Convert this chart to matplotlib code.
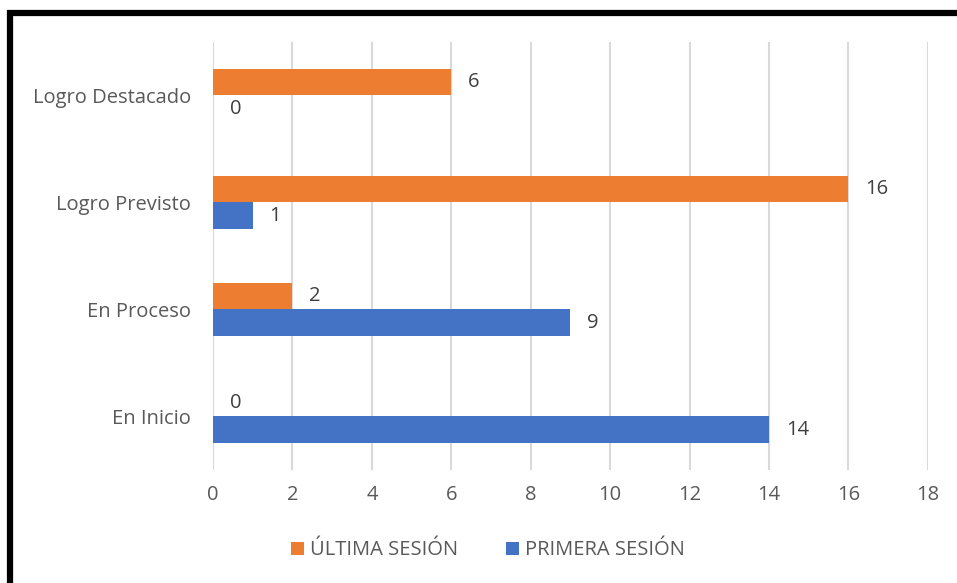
"""Horizontal grouped bar chart: primera vs ultima sesion."""

import matplotlib
matplotlib.use("Agg")
from matplotlib import pyplot as plt
from matplotlib.patches import Rectangle
import numpy as np

# Data
categories = ["En Inicio", "En Proceso", "Logro Previsto", "Logro Destacado"]
ultima = [0, 2, 16, 6]
primera = [14, 9, 1, 0]
series_names = ["ÚLTIMA SESIÓN", "PRIMERA SESIÓN"]
xticks = [0, 2, 4, 6, 8, 10, 12, 14, 16, 18]

orange = "#ED7D31"
blue = "#4472C4"
gray = "#595959"
fs = 14.5

plt.rcParams["font.family"] = ["Open Sans", "DejaVu Sans"]

fig = plt.figure(figsize=(9.57, 5.83), dpi=100)
ax = fig.add_axes([0.2226, 0.194, 0.747, 0.734])

y = np.arange(len(categories))
h = 0.25
b1 = ax.barh(y + h / 2, ultima, height=h, color=orange, label=series_names[0], zorder=3)
b2 = ax.barh(y - h / 2, primera, height=h, color=blue, label=series_names[1], zorder=3)

for bars, vals in ((b1, ultima), (b2, primera)):
    for bar, v in zip(bars, vals):
        ax.annotate(str(v), (v, bar.get_y() + bar.get_height() / 2),
                    xytext=(12, 0), textcoords="offset points",
                    ha="left", va="center", fontsize=fs, color="#404040")

ax.set_xlim(0, 18)
ax.set_ylim(-0.5, len(categories) - 0.5)
ax.set_xticks(xticks)
ax.set_yticks(y)
ax.set_yticklabels(categories)
ax.tick_params(axis="both", length=0, labelsize=fs, labelcolor=gray)
ax.tick_params(axis="x", pad=11)
ax.tick_params(axis="y", pad=16)
ax.grid(axis="x", color="#d9d9d9", linewidth=1.5, zorder=0)
for s in ax.spines.values():
    s.set_visible(False)

fig.legend(handles=[b1, b2], loc="center", bbox_to_anchor=(0.51, 0.056),
           ncol=2, frameon=False, fontsize=fs, labelcolor=gray,
           handlelength=0.65, handleheight=0.65, handletextpad=0.3, columnspacing=2.4)

# thick black frame, clipped at right and bottom like the source
fig.patches.append(Rectangle((9.5 / 957, -0.1), 1.2, 1.1 - 13 / 583,
                             transform=fig.transFigure, fill=False,
                             edgecolor="black", linewidth=4.5, clip_on=False))

fig.savefig("out.png", dpi=100)
